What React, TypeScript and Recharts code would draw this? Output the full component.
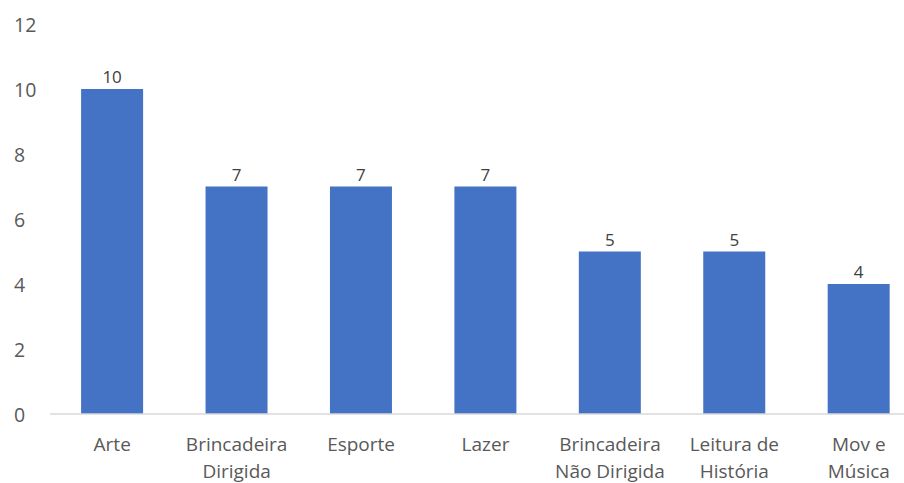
import React from "react";
import { BarChart, Bar, XAxis, YAxis, LabelList } from "recharts";

const categories: string[][] = [
  ["Arte"],
  ["Brincadeira", "Dirigida"],
  ["Esporte"],
  ["Lazer"],
  ["Brincadeira", "Não Dirigida"],
  ["Leitura de", "História"],
  ["Mov e", "Música"],
];
const values = [10, 7, 7, 7, 5, 5, 4];
const yTicks = [0, 2, 4, 6, 8, 10, 12];

const data = categories.map((c, i) => ({ name: c.join("\n"), value: values[i] }));

const FONT = "'Open Sans', 'Noto Sans', sans-serif";

const XTick = (props: any) => {
  const { x, y, payload } = props;
  const lines = String(payload.value).split("\n");
  return (
    <g>
      {lines.map((l: string, i: number) => (
        <text
          key={i}
          x={x}
          y={y + 29 + i * 27}
          textAnchor="middle"
          fill="#595959"
          fontSize={19}
          fontFamily={FONT}
        >
          {l}
        </text>
      ))}
    </g>
  );
};

const YTick = (props: any) => {
  const { x, y, payload } = props;
  return (
    <text x={x - 28} y={y + 8} textAnchor="start" fill="#595959" fontSize={19.5} fontFamily={FONT}>
      {payload.value}
    </text>
  );
};

export default function App() {
  return (
    <div style={{ position: "absolute", left: 0, top: 0, width: 904, height: 483, overflow: "hidden", background: "#fff" }}>
      <BarChart
        width={925}
        height={500}
        data={data}
        margin={{ top: 24, right: 4, bottom: 17, left: 0 }}
        barCategoryGap="25%"
        style={{ overflow: "visible" }}
      >
        <XAxis
          dataKey="name"
          interval={0}
          height={69}
          tickLine={false}
          axisLine={{ stroke: "#D9D9D9", strokeWidth: 1.5 }}
          tick={<XTick />}
        />
        <YAxis
          width={50}
          domain={[0, 12]}
          ticks={yTicks}
          axisLine={false}
          tickLine={false}
          tick={<YTick />}
        />
        <Bar dataKey="value" fill="#4472C4" isAnimationActive={false}>
          <LabelList
            dataKey="value"
            position="top"
            offset={6}
            fill="#404040"
            fontSize={17}
            fontFamily={FONT}
          />
        </Bar>
      </BarChart>
    </div>
  );
}
